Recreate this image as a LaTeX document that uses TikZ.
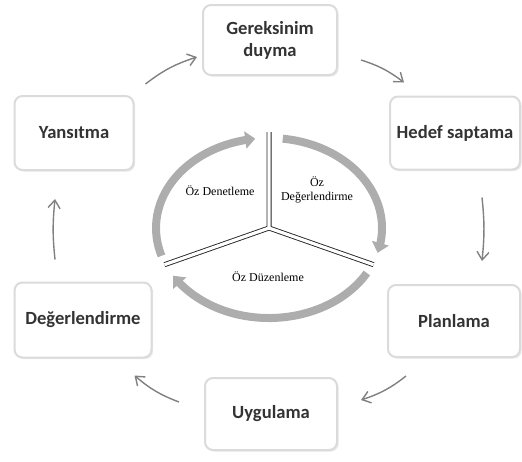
\documentclass[tikz,border=0pt]{standalone}
\usepackage{fontspec}
\setmainfont{Liberation Serif}
\newfontfamily\boxfont{Carlito}
\usetikzlibrary{positioning,arrows.meta,calc,shadows,bending}

\begin{document}
\begin{tikzpicture}[x=0.5pt, y=0.5pt,
  box/.style={draw=black!14, line width=1pt, fill=white, rounded corners=4pt,
    drop shadow={opacity=0.18, shadow xshift=0.8pt, shadow yshift=-0.8pt},
    align=center, text=black!80, font=\boxfont\bfseries\fontsize{9.3}{11}\selectfont},
  cyc/.style={draw=black!50, line width=0.7pt, -{Straight Barb[length=4pt,width=6pt]}},
  ring/.style={draw=black!32, line width=4pt, -{Triangle[length=5pt,width=8.5pt,flex]}},
  divline/.style={draw=black!85, line width=0.45pt, double=white, double distance=1.6pt},
  inner/.style={align=center, font=\fontsize{6}{7.2}\selectfont}]
\useasboundingbox (0,0) rectangle (522,-461);
% outer cycle
\node[box, minimum width=67pt, minimum height=35pt] (ger) at (270,-40) {Gereksinim\\duyma};
\node[box, minimum width=65pt, minimum height=36.5pt] (hed) at (455,-133) {Hedef saptama};
\node[box, minimum width=66pt, minimum height=36pt] (pla) at (454,-321) {Planlama};
\node[box, minimum width=66pt, minimum height=36pt] (uyg) at (271,-414) {Uygulama};
\node[box, minimum width=68.5pt, minimum height=37.5pt] (deg) at (83,-320) {Değerlendirme};
\node[box, minimum width=59.5pt, minimum height=37pt] (yan) at (74,-133) {Yansıtma};
\draw[cyc] ($(yan.north east)+(11,11)$) to[bend left=10] ($(ger.west)+(-5,-17)$);
\draw[cyc] ($(ger.east)+(23,-20)$) to[bend left=10] ($(hed.north west)+(15,13)$);
\draw[cyc] ($(hed.south)+(27,-27)$) to[bend left=6] ($(pla.north)+(28,23)$);
\draw[cyc] ($(pla.south west)+(19,-18)$) to[bend left=10] ($(uyg.east)+(23,14)$);
\draw[cyc] ($(uyg.west)+(-25,12)$) to[bend left=10] ($(deg.south east)+(-18,-17)$);
\draw[cyc] ($(deg.north)+(-28,22)$) to[bend left=6] ($(yan.south)+(-19,-28)$);
% inner ring
\coordinate (c) at (269,-228);
\draw[ring] ($(c)+(198:113 and 90)$) arc[start angle=198, end angle=97, x radius=113, y radius=90];
\draw[ring] ($(c)+(83:113 and 90)$) arc[start angle=83, end angle=-16, x radius=113, y radius=90];
\draw[ring] ($(c)+(-30:113 and 90)$) arc[start angle=-30, end angle=-148, x radius=113, y radius=90];
\coordinate (dtop) at ($(c)+(90:117 and 96)$);
\coordinate (dleft) at ($(c)+(203.5:114 and 92)$);
\coordinate (dright) at ($(c)+(-23.5:114 and 92)$);
\draw[divline] (dtop) -- (c) -- (dleft) (c) -- (dright);
\node[inner] (den) at (220,-191) {Öz Denetleme};
\node[inner] (dgr) at (317,-190) {Öz\\Değerlendirme};
\node[inner] (duz) at (268,-277) {Öz Düzenleme};
\end{tikzpicture}
\end{document}
